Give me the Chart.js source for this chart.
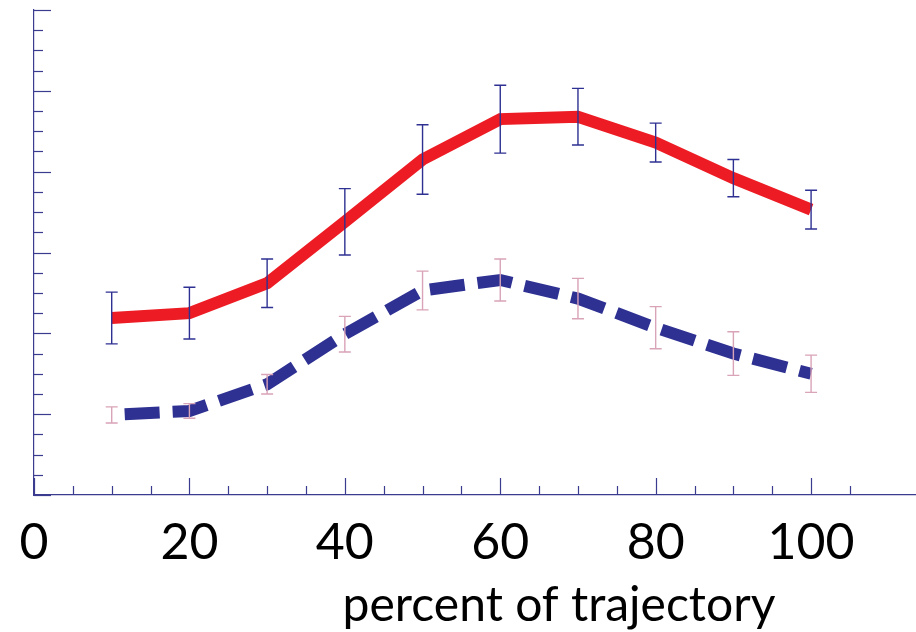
<!DOCTYPE html>
<html lang="en">
<head>
  <meta charset="UTF-8" />
  <title>Percent of trajectory</title>
  <script src="https://cdn.jsdelivr.net/npm/chart.js"></script>
  <style>
    html, body { margin: 0; padding: 0; background: #fff; }
    #wrap { width: 916px; height: 632px; }
  </style>
</head>
<body>
  <div id="wrap"><canvas id="chart" width="916" height="632"></canvas></div>
  <script>
    // data
    const percent = [10, 20, 30, 40, 50, 60, 70, 80, 90, 100];
    const solidMean = [2.19, 2.25, 2.62, 3.38, 4.15, 4.65, 4.68, 4.36, 3.92, 3.53];
    const solidErr = [0.32, 0.32, 0.30, 0.41, 0.43, 0.42, 0.35, 0.24, 0.23, 0.24];
    const dashedMean = [0.99, 1.04, 1.37, 1.99, 2.53, 2.66, 2.43, 2.07, 1.75, 1.50];
    const dashedErr = [0.10, 0.09, 0.12, 0.22, 0.24, 0.26, 0.25, 0.26, 0.27, 0.23];
    const xLabels = [0, 20, 40, 60, 80, 100];

    const axisColor = '#3b3b8f';
    const red = '#ed1c24';
    const blue = '#2e3192';

    // inward tick marks, long on majors
    const innerTicks = {
      id: 'innerTicks',
      afterDraw(chart) {
        const ctx = chart.ctx;
        const xs = chart.scales.x, ys = chart.scales.y;
        const area = chart.chartArea;
        ctx.save();
        ctx.strokeStyle = axisColor;
        ctx.lineWidth = 1.2;
        xs.ticks.forEach(t => {
          if (t.value % 5 !== 0) return;
          const px = Math.round(xs.getPixelForValue(t.value)) + 0.5;
          const len = t.value % 20 === 0 ? 17 : 9;
          ctx.beginPath();
          ctx.moveTo(px, area.bottom);
          ctx.lineTo(px, area.bottom - len);
          ctx.stroke();
        });
        ys.ticks.forEach(t => {
          const py = Math.round(ys.getPixelForValue(t.value)) + 0.5;
          const len = Math.abs(t.value - Math.round(t.value)) < 1e-6 ? 17 : 9;
          ctx.beginPath();
          ctx.moveTo(area.left, py);
          ctx.lineTo(area.left + len, py);
          ctx.stroke();
        });
        ctx.fillStyle = '#000';
        ctx.font = '48px Lato';
        ctx.textAlign = 'center';
        ctx.textBaseline = 'alphabetic';
        ctx.fillText('percent of trajectory', 559, 621);
        ctx.restore();
      }
    };

    // error bars drawn from each dataset's err array
    const errorBars = {
      id: 'errorBars',
      afterDatasetsDraw(chart) {
        const ctx = chart.ctx;
        const xs = chart.scales.x, ys = chart.scales.y;
        ctx.save();
        chart.data.datasets.forEach(ds => {
          ctx.strokeStyle = ds.errColor;
          ctx.lineWidth = 1.4;
          ds.data.forEach((p, i) => {
            const e = ds.err[i];
            const px = xs.getPixelForValue(p.x);
            const top = ys.getPixelForValue(p.y + e);
            const bot = ys.getPixelForValue(p.y - e);
            ctx.beginPath();
            ctx.moveTo(px, top); ctx.lineTo(px, bot);
            ctx.moveTo(px - 6, top); ctx.lineTo(px + 6, top);
            ctx.moveTo(px - 6, bot); ctx.lineTo(px + 6, bot);
            ctx.stroke();
          });
        });
        ctx.restore();
      }
    };

    new Chart(document.getElementById('chart'), {
      type: 'line',
      data: {
        datasets: [
          {
            data: percent.map((x, i) => ({ x: x, y: solidMean[i] })),
            err: solidErr,
            errColor: blue,
            borderColor: red,
            borderWidth: 12,
            borderJoinStyle: 'miter',
            borderCapStyle: 'butt',
            pointRadius: 0,
            tension: 0
          },
          {
            data: percent.map((x, i) => ({ x: x, y: dashedMean[i] })),
            err: dashedErr,
            errColor: '#d9a3b8',
            borderColor: blue,
            borderWidth: 12,
            borderDash: [35, 13],
            borderDashOffset: 35,
            borderJoinStyle: 'miter',
            borderCapStyle: 'butt',
            pointRadius: 0,
            tension: 0
          }
        ]
      },
      options: {
        responsive: false,
        animation: false,
        layout: { padding: { top: 10, right: 0, left: 0, bottom: 0 } },
        plugins: { legend: { display: false }, tooltip: { enabled: false } },
        scales: {
          x: {
            type: 'linear',
            min: 0,
            max: 113.5,
            afterFit: s => { s.height = 137; s.paddingLeft = 0; s.paddingRight = 0; },
            grid: { drawOnChartArea: false, drawTicks: false },
            border: { display: true, color: axisColor, width: 1.2 },
            ticks: {
              stepSize: 5,
              autoSkip: false,
              maxRotation: 0,
              minRotation: 0,
              padding: 18,
              color: '#000',
              font: { family: 'Lato', size: 50 },
              callback: v => xLabels.includes(v) ? String(v) : ''
            }
          },
          y: {
            min: 0,
            max: 6,
            afterFit: s => { s.width = 34; s.paddingTop = 0; s.paddingBottom = 0; },
            grid: { drawOnChartArea: false, drawTicks: false },
            border: { display: true, color: axisColor, width: 1.2 },
            ticks: { stepSize: 0.25, display: false }
          }
        }
      },
      plugins: [errorBars, innerTicks]
    });
  </script>
</body>
</html>
